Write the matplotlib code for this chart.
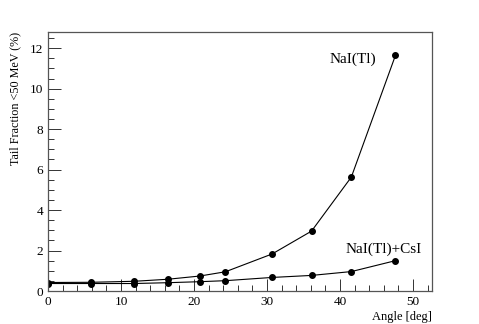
import matplotlib
matplotlib.use("Agg")
import matplotlib.pyplot as plt
from matplotlib.ticker import MultipleLocator

angles = [0.0, 5.85, 11.8, 16.4, 20.8, 24.3, 30.7, 36.1, 41.55, 47.6]
nai = [0.42, 0.43, 0.48, 0.58, 0.74, 0.95, 1.83, 2.96, 5.63, 11.65]
nai_csi = [0.37, 0.37, 0.37, 0.41, 0.46, 0.51, 0.67, 0.77, 0.96, 1.50]

plt.rcParams['font.family'] = ['Liberation Serif', 'DejaVu Serif']

fig = plt.figure(figsize=(4.79, 3.24), dpi=100)
ax = fig.add_axes([48/479, 1-291/324, (432-48)/479, (291-32)/324])

ax.plot(angles, nai, '-o', color='black', lw=0.8, ms=4)
ax.plot(angles, nai_csi, '-o', color='black', lw=0.8, ms=4)

ax.set_xlim(0, 52.6)
ax.set_ylim(0, 12.8)
ax.xaxis.set_major_locator(MultipleLocator(10))
ax.xaxis.set_minor_locator(MultipleLocator(2))
ax.yaxis.set_major_locator(MultipleLocator(2))
ax.yaxis.set_minor_locator(MultipleLocator(0.5))
ax.tick_params(which='both', direction='in', top=False, right=False, labelsize=9.5, width=0.7, color='#333333')
ax.tick_params(which='major', length=9)
ax.tick_params(which='minor', length=4.5)
for s in ax.spines.values():
    s.set_linewidth(0.9)
    s.set_color('#555555')

ax.text(38.5, 11.3, 'NaI(Tl)', fontsize=11)
ax.text(40.7, 1.9, 'NaI(Tl)+CsI', fontsize=11)

ax.set_xlabel('Angle [deg]', fontsize=9, loc='right', labelpad=2)
ax.set_ylabel('Tail Fraction <50 MeV (%)', fontsize=8.7, loc='top', labelpad=6)

fig.savefig('out.png', dpi=100)
